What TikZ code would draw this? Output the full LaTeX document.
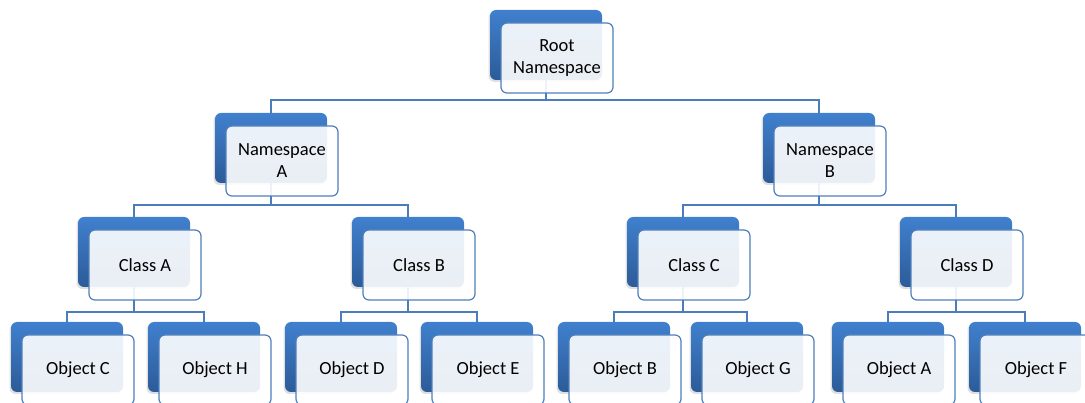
\documentclass[tikz,border=0pt]{standalone}
\usepackage{fontspec}
\setmainfont{Carlito}
\usetikzlibrary{backgrounds,shadows}
\definecolor{backtop}{HTML}{4080CE}
\definecolor{backbot}{HTML}{2C5B98}
\definecolor{edge}{HTML}{4F7FBC}
\definecolor{conncol}{HTML}{4A7DBA}
\tikzset{
  backbox/.style={rectangle, rounded corners=6pt, minimum width=112pt, minimum height=70pt,
    inner sep=0pt, top color=backtop, bottom color=backbot, draw=none,
    drop shadow={opacity=0.25, shadow xshift=-1.5pt, shadow yshift=-2pt}},
  frontbox/.style={rectangle, rounded corners=6pt, minimum width=112pt, minimum height=70pt,
    inner sep=0pt, fill=white, fill opacity=0.9, text opacity=1, draw=edge, line width=1.2pt,
    align=center, font=\fontsize{18.5}{22}\selectfont, text=black},
  conn/.style={draw=conncol, line width=1.5pt},
}
\newcommand{\unitbox}[4]{% name, x, y, text
  \node[backbox] (#1b) at (#2+56,#3+35) {};
  \node[frontbox] (#1) at (#2+67,#3+48) {#4};
}
\begin{document}
\begin{tikzpicture}[x=1pt,y=-1pt]
\useasboundingbox (0,0) rectangle (1085,403);
\clip (0,0) rectangle (1085,403);
\unitbox{root}{490}{10}{Root\\Namespace}
\unitbox{nsa}{215}{113}{Namespace\\A}
\unitbox{nsb}{763}{113}{Namespace\\B}
\unitbox{cla}{78}{217}{Class A}
\unitbox{clb}{352}{217}{Class B}
\unitbox{clc}{627}{217}{Class C}
\unitbox{cld}{900}{217}{Class D}
\unitbox{obc}{11}{322}{Object C}
\unitbox{obh}{148}{322}{Object H}
\unitbox{obd}{285}{322}{Object D}
\unitbox{obe}{421}{322}{Object E}
\unitbox{obb}{558}{322}{Object B}
\unitbox{obg}{691}{322}{Object G}
\unitbox{oba}{832}{322}{Object A}
\unitbox{obf}{969}{322}{Object F}
\begin{pgfonlayer}{background}
\draw[conn] (rootb.south) -- (rootb.south |- 0,100) -| (nsab.north);
\draw[conn] (rootb.south |- 0,100) -| (nsbb.north);
\draw[conn] (nsab.south) -- (nsab.south |- 0,205) -| (clab.north);
\draw[conn] (nsab.south |- 0,205) -| (clbb.north);
\draw[conn] (nsbb.south) -- (nsbb.south |- 0,205) -| (clcb.north);
\draw[conn] (nsbb.south |- 0,205) -| (cldb.north);
\draw[conn] (clab.south) -- (clab.south |- 0,312) -| (obcb.north);
\draw[conn] (clab.south |- 0,312) -| (obhb.north);
\draw[conn] (clbb.south) -- (clbb.south |- 0,312) -| (obdb.north);
\draw[conn] (clbb.south |- 0,312) -| (obeb.north);
\draw[conn] (clcb.south) -- (clcb.south |- 0,312) -| (obbb.north);
\draw[conn] (clcb.south |- 0,312) -| (obgb.north);
\draw[conn] (cldb.south) -- (cldb.south |- 0,312) -| (obab.north);
\draw[conn] (cldb.south |- 0,312) -| (obfb.north);
\end{pgfonlayer}
\end{tikzpicture}
\end{document}
